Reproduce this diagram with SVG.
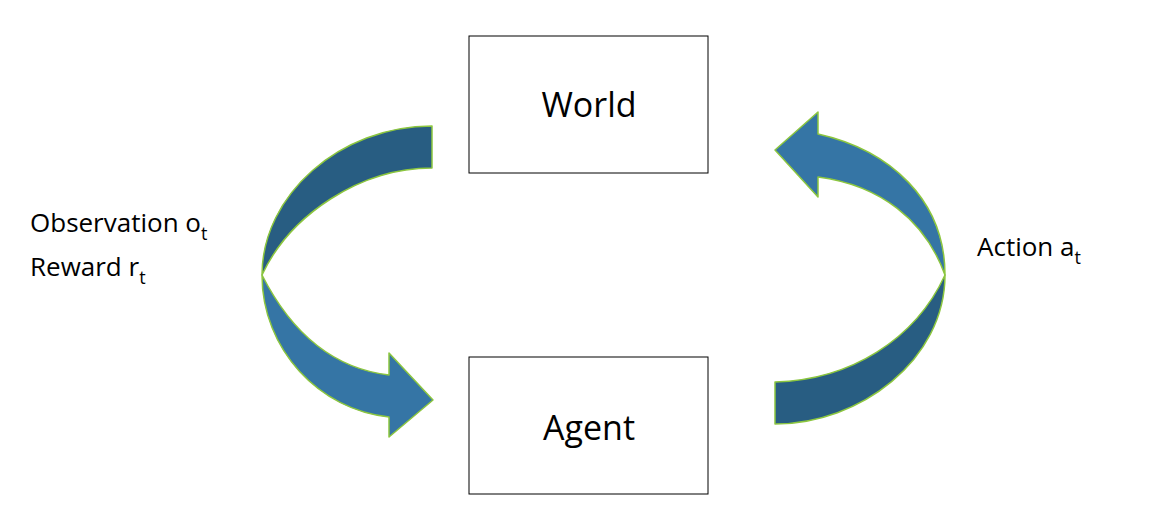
<svg xmlns="http://www.w3.org/2000/svg" width="1168" height="526" viewBox="0 0 1168 526">
<style>
.box{fill:#fff;stroke:#000;stroke-width:1}
.t{font-family:"Open Sans","Liberation Sans",sans-serif;fill:#000}
.big{font-size:34px}
.lab{font-size:26px}
.sub{font-size:18px}
.dk{fill:#285d82;stroke:#8cc63f;stroke-width:1.5;stroke-linejoin:round}
.lt{fill:#3575a5;stroke:#8cc63f;stroke-width:1.5;stroke-linejoin:round}
</style>
<rect width="1168" height="526" fill="#fff"/>
<g id="world"><rect class="box" x="469" y="36" width="239" height="137"/><text class="t big" x="589" y="117" text-anchor="middle">World</text></g>
<g id="agent"><rect class="box" x="469" y="357" width="239" height="137"/><text class="t big" x="589" y="440" text-anchor="middle">Agent</text></g>
<g id="connectors">
<path class="dk" d="M432,126 C340,126 262,195 262,275 C290,215 360,168 432,168 Z"/>
<path class="lt" d="M262,275 C262,350 320,410 389,417 L389,437 L433,400 L389,353 L389,375 C330,368 290,330 262,275 Z"/>
<path class="dk" d="M945,275 C945,360 860,424 775,424 L775,382 C850,380 915,340 945,275 Z"/>
<path class="lt" d="M945,275 C945,200 890,150 818,134 L818,112 L775,150 L818,197 L818,177 C880,185 925,220 945,275 Z"/>
</g>
<g id="labels">
<text class="t lab" x="30" y="232">Observation o<tspan class="sub" dy="8">t</tspan></text>
<text class="t lab" x="30" y="276">Reward r<tspan class="sub" dy="8">t</tspan></text>
<text class="t lab" x="977" y="256">Action a<tspan class="sub" dy="8">t</tspan></text>
</g>
</svg>
